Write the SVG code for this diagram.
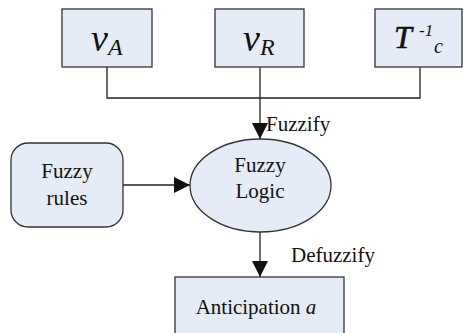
<svg xmlns="http://www.w3.org/2000/svg" width="463" height="333" viewBox="0 0 463 333">
  <style>
    .box { fill: #e6ecf7; stroke: #333333; stroke-width: 1.3; }
    .wire { fill: none; stroke: #222222; stroke-width: 1.3; }
    text { font-family: 'Liberation Serif', 'DejaVu Serif', serif; fill: #111111; }
    .it { font-style: italic; }
  </style>
  <defs>
    <marker id="arrow" viewBox="0 0 10 10" refX="10" refY="5" markerWidth="16" markerHeight="16" markerUnits="userSpaceOnUse" orient="auto">
      <path d="M0,0 L10,5 L0,10 z" fill="#111111"/>
    </marker>
  </defs>
  <rect width="463" height="333" fill="#ffffff"/>

  <g id="connectors">
    <path class="wire" d="M107,67 V98 H420 V67"/>
    <path class="wire" d="M260,67 V139" marker-end="url(#arrow)"/>
    <path class="wire" d="M123,185 H190" marker-end="url(#arrow)"/>
    <path class="wire" d="M260,232 V277" marker-end="url(#arrow)"/>
    <text x="266" y="131" font-size="21">Fuzzify</text>
    <text x="291" y="262" font-size="21">Defuzzify</text>
  </g>

  <g id="node-vA">
    <rect class="box" x="62" y="9" width="90" height="58"/>
    <text class="it" x="91" y="51" font-size="38">v<tspan font-size="24" dy="4">A</tspan></text>
  </g>

  <g id="node-vR">
    <rect class="box" x="215" y="9" width="89" height="58"/>
    <text class="it" x="243" y="51" font-size="38">v<tspan font-size="24" dy="4">R</tspan></text>
  </g>

  <g id="node-Tc">
    <rect class="box" x="375" y="9" width="87" height="58"/>
    <text class="it" x="394" y="48" font-size="32" stroke="#111111" stroke-width="0.6">T</text>
    <text class="it" x="419" y="36" font-size="17">-1</text>
    <text class="it" x="434" y="53" font-size="20">c</text>
  </g>

  <g id="node-rules">
    <rect class="box" x="11" y="143" width="112" height="84" rx="17" ry="17"/>
    <text x="67" y="178" font-size="21" text-anchor="middle">Fuzzy</text>
    <text x="67" y="205" font-size="21" text-anchor="middle">rules</text>
  </g>

  <g id="node-logic">
    <ellipse class="box" cx="260.5" cy="185.5" rx="70.5" ry="46.5"/>
    <text x="260" y="172" font-size="21" text-anchor="middle">Fuzzy</text>
    <text x="260" y="198" font-size="21" text-anchor="middle">Logic</text>
  </g>

  <g id="node-anticipation">
    <rect class="box" x="175" y="277" width="169" height="60"/>
    <text x="256" y="314" font-size="21" text-anchor="middle">Anticipation <tspan class="it">a</tspan></text>
  </g>
</svg>
